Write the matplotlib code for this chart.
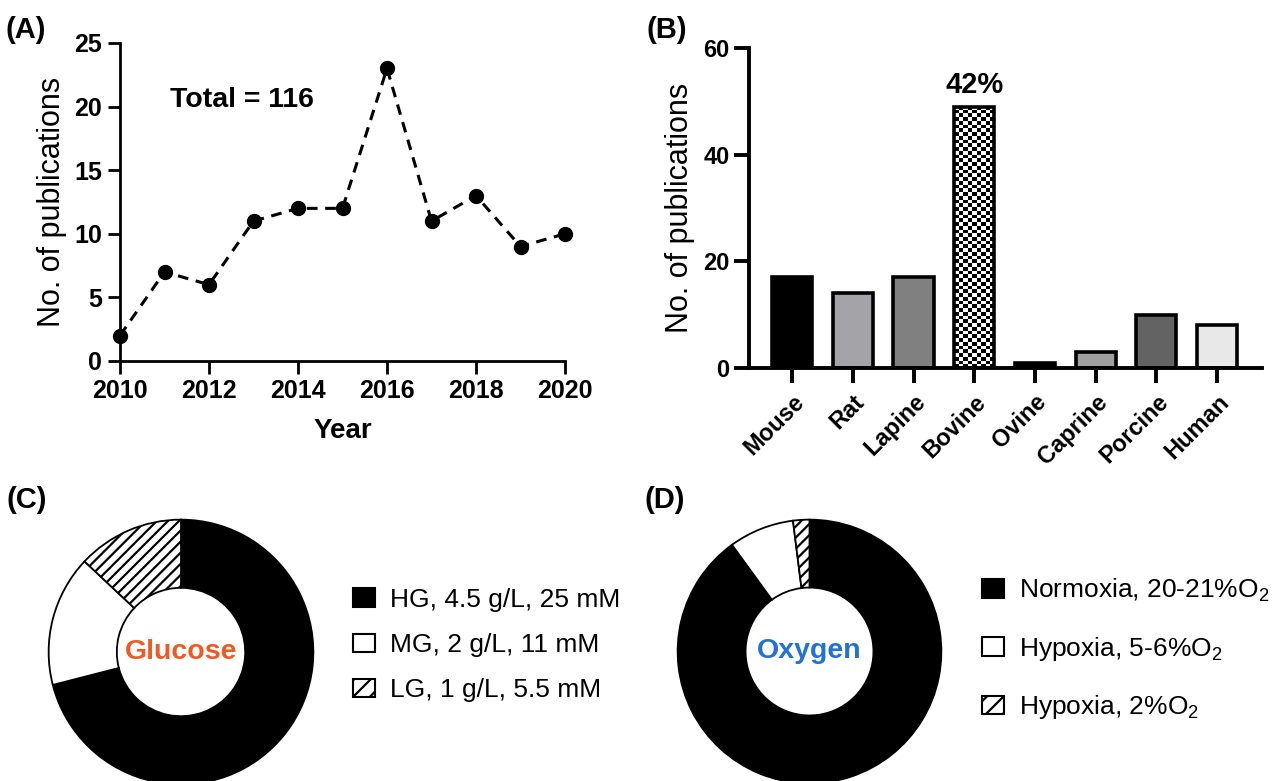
import numpy as np
import matplotlib
matplotlib.use("Agg")
import matplotlib.pyplot as plt
from matplotlib.patches import Patch

plt.rcParams['font.family'] = ['Liberation Sans', 'DejaVu Sans']
plt.rcParams['mathtext.fontset'] = 'custom'
plt.rcParams['mathtext.rm'] = 'Liberation Sans'
plt.rcParams['hatch.linewidth'] = 1.6

# (A) publications per year
years = [2010, 2011, 2012, 2013, 2014, 2015, 2016, 2017, 2018, 2019, 2020]
pubs = [2, 7, 6, 11, 12, 12, 23, 11, 13, 9, 10]

# (B) species
species = ["Mouse", "Rat", "Lapine", "Bovine", "Ovine", "Caprine", "Porcine", "Human"]
species_n = [17, 14, 17, 49, 1, 3, 10, 8]
species_col = ["black", "#a3a3a8", "#808080", "white", "black", "#a0a0a0", "#636363", "#e8e8e8"]

# (C) glucose
glu_labels = ["HG, 4.5 g/L, 25 mM", "MG, 2 g/L, 11 mM", "LG, 1 g/L, 5.5 mM"]
glu_vals = [71, 16, 13]

# (D) oxygen
oxy_labels = ["Normoxia, 20-21%O$_{\\mathrm{2}}$", "Hypoxia, 5-6%O$_{\\mathrm{2}}$", "Hypoxia, 2%O$_{\\mathrm{2}}$"]
oxy_vals = [90, 8, 2]

W, H = 1274, 781
fig = plt.figure(figsize=(W / 100, H / 100), dpi=100)


def px_axes(x0, y0, x1, y1):
    # pixel box (top-left origin) -> figure fraction
    return [x0 / W, 1 - y1 / H, (x1 - x0) / W, (y1 - y0) / H]


# ---------------- panel A ----------------
axA = fig.add_axes(px_axes(120, 43, 565, 361))
axA.plot(years, pubs, color='black', ls='--', lw=2.2, dashes=(3.5, 2.5),
         marker='o', ms=10, clip_on=False, zorder=3)
axA.set_xlim(2010, 2020)
axA.set_ylim(0, 25)
axA.set_xticks(range(2010, 2021, 2))
axA.set_yticks(range(0, 26, 5))
for s in ['top', 'right']:
    axA.spines[s].set_visible(False)
for s in ['left', 'bottom']:
    axA.spines[s].set_linewidth(2)
axA.tick_params(length=9, width=2, labelsize=18, pad=4)
for lab in axA.get_xticklabels() + axA.get_yticklabels():
    lab.set_fontweight('bold')
axA.set_ylabel("No. of publications", fontsize=22)
axA.yaxis.set_label_coords(-0.12, 0.5)
axA.set_xlabel("Year", fontsize=20, fontweight='bold')
axA.xaxis.set_label_coords(0.5, -0.18)
axA.text(2012.75, 20.5, "Total = 116", fontsize=20.5, fontweight='bold',
         ha='center', va='center')

# ---------------- panel B ----------------
axB = fig.add_axes(px_axes(749, 48, 1262, 368))
xpos = np.arange(len(species))
bars = axB.bar(xpos, species_n, width=0.66, color=species_col,
               edgecolor='black', linewidth=2.6, zorder=2)
# checkerboard fill for the bovine bar
bv = bars[3]
bv.set_facecolor('none')
checker = np.indices((70, 9)).sum(axis=0) % 2
axB.imshow(checker, cmap='gray_r', interpolation='nearest', aspect='auto',
           extent=(bv.get_x(), bv.get_x() + bv.get_width(), 0, bv.get_height()),
           zorder=1)
axB.text(xpos[3], species_n[3] + 1.4, "42%", fontsize=21, fontweight='bold',
         ha='center', va='bottom')
axB.set_xlim(-0.71, 7.74)
axB.set_ylim(0, 60)
axB.set_yticks([0, 20, 40, 60])
axB.set_xticks(xpos)
axB.set_xticklabels(species)
for s in ['top', 'right']:
    axB.spines[s].set_visible(False)
for s in ['left', 'bottom']:
    axB.spines[s].set_linewidth(2.8)
axB.tick_params(length=11, width=2.8, labelsize=17, pad=3)
axB.tick_params(axis='x', pad=5)
for lab in axB.get_yticklabels():
    lab.set_fontweight('bold')
for lab in axB.get_xticklabels():
    lab.set_fontweight('bold')
    lab.set_rotation(45)
    lab.set_ha('right')
    lab.set_rotation_mode('anchor')
axB.set_ylabel("No. of publications", fontsize=22)
axB.yaxis.set_label_coords(-0.105, 0.5)

# ---------------- donuts ----------------
hatch = '///'


def donut(cx, cy, r, vals, title, tcolor):
    ax = fig.add_axes(px_axes(cx - r, cy - r, cx + r, cy + r))
    wedges, _ = ax.pie(vals, colors=['black', 'white', 'white'], startangle=90,
                       counterclock=False,
                       wedgeprops=dict(width=0.515, edgecolor='black', linewidth=1.3))
    wedges[2].set_hatch(hatch)
    ax.set_xlim(-1.02, 1.02)
    ax.set_ylim(-1.02, 1.02)
    ax.text(0, 0, title, fontsize=20.5, fontweight='bold', color=tcolor,
            ha='center', va='center')
    return ax


donut(181, 652, 135, glu_vals, "Glucose", "#ee5a24")
donut(809.5, 651.5, 134.5, oxy_vals, "Oxygen", "#2171d9")


def handles():
    return [Patch(facecolor='black', edgecolor='black', lw=1.5),
            Patch(facecolor='white', edgecolor='black', lw=1.5),
            Patch(facecolor='white', edgecolor='black', lw=1.5, hatch='//')]


fig.legend(handles(), glu_labels, loc='center left',
           bbox_to_anchor=(353 / W, 1 - 645 / H), frameon=False, fontsize=19,
           handlelength=0.85, handleheight=0.7, handletextpad=0.55,
           labelspacing=0.8, borderpad=0, borderaxespad=0)
fig.legend(handles(), oxy_labels, loc='center left',
           bbox_to_anchor=(982 / W, 1 - 649 / H), frameon=False, fontsize=19,
           handlelength=0.85, handleheight=0.7, handletextpad=0.55,
           labelspacing=1.15, borderpad=0, borderaxespad=0)

# panel letters
for txt, x, y in [("(A)", 6, 30), ("(B)", 646, 30), ("(C)", 7, 500), ("(D)", 645, 500)]:
    fig.text(x / W, 1 - y / H, txt, fontsize=21, fontweight='bold',
             ha='left', va='center')

fig.savefig("out.png", dpi=100)
